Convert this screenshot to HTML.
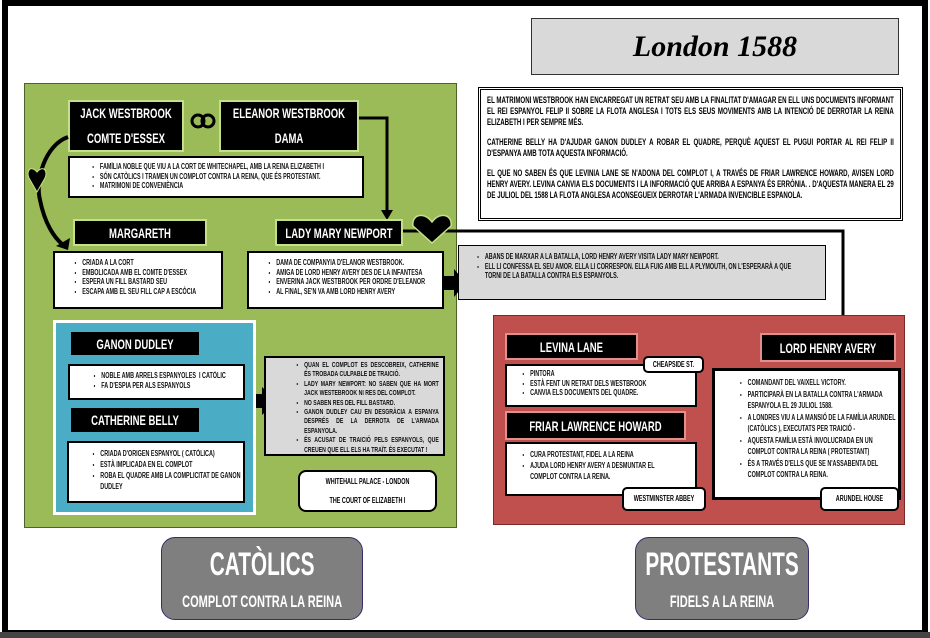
<!DOCTYPE html>
<html><head><meta charset="utf-8"><style>
*{box-sizing:border-box;margin:0;padding:0}
body{width:930px;height:638px;background:#fff;position:relative;overflow:hidden;font-family:"Liberation Sans",sans-serif;font-weight:bold}
.a{position:absolute}
.cz{width:147%;transform:scaleX(0.68);transform-origin:left top}
.blk{position:absolute;background:#000;color:#fff;text-align:center;font-size:14px;border:2px solid #c5e08a;display:flex;flex-direction:column;justify-content:center;overflow:hidden}
.blk .cz{transform-origin:left center}
.rb{border-color:#e08f8c}
.wb{position:absolute;background:#fff;border:2px solid #000;font-size:8px;color:#111;line-height:9.5px;overflow:hidden}
.wb ul{padding-left:30px;margin-top:4px}
.wb li{list-style:disc}
.gb{position:absolute;background:#d9d9d9;border:1px solid #000;font-size:8px;line-height:9.5px;color:#111;overflow:hidden}
.gb ul{padding-left:36px;margin-top:6px}
.lbl{position:absolute;background:#fff;border:2px solid #000;border-radius:5px;font-size:8px;text-align:center;overflow:hidden}
</style></head><body>
<div class="a" style="left:2px;top:0;width:926px;height:636px;border:6px solid #000"></div>
<div class="a" style="left:0;top:632px;width:930px;height:6px;background:#444"></div>

<div class="a" style="left:531px;top:18px;width:368px;height:57px;background:#d9d9d9;border:1px solid #333;text-align:center;font-family:'Liberation Serif',serif;font-style:italic;font-size:30px;line-height:55px;font-weight:bold">London 1588</div>

<div class="a" style="left:478px;top:87px;width:425px;height:134px;border:3px double #000;background:#fff;font-size:9px;line-height:11px;padding:5px 6px;overflow:hidden">
<div style="width:147%;transform:scaleX(0.68);transform-origin:left top;text-align:justify">
<p>EL MATRIMONI WESTBROOK HAN ENCARREGAT UN RETRAT SEU AMB LA FINALITAT D'AMAGAR EN ELL UNS DOCUMENTS INFORMANT EL REI ESPANYOL FELIP II SOBRE LA FLOTA ANGLESA I TOTS ELS SEUS MOVIMENTS AMB LA INTENCIÓ DE DERROTAR LA REINA ELIZABETH I PER SEMPRE MÉS.</p>
<p style="margin-top:9px">CATHERINE BELLY HA D'AJUDAR GANON DUDLEY A ROBAR EL QUADRE, PERQUÈ AQUEST EL PUGUI PORTAR AL REI FELIP II D'ESPANYA AMB TOTA AQUESTA INFORMACIÓ.</p>
<p style="margin-top:9px">EL QUE NO SABEN ÉS QUE LEVINIA LANE SE N'ADONA DEL COMPLOT I, A TRAVÉS DE FRIAR LAWRENCE HOWARD, AVISEN LORD HENRY AVERY. LEVINA CANVIA ELS DOCUMENTS I LA INFORMACIÓ QUE ARRIBA A ESPANYA ÉS ERRÒNIA. . D'AQUESTA MANERA EL 29 DE JULIOL DEL 1588 LA FLOTA ANGLESA ACONSEGUEIX DERROTAR L'ARMADA INVENCIBLE ESPANOLA.</p>
</div></div>

<div class="a" style="left:24px;top:83px;width:433px;height:445px;background:#9bbb59;border:1px solid #4f6228"></div>
<div class="blk" style="left:68px;top:100px;width:116px;height:52px"><div class="cz"><div style="line-height:25px">JACK WESTBROOK</div><div style="line-height:25px">COMTE D'ESSEX</div></div></div>
<div class="blk" style="left:219px;top:100px;width:140px;height:52px"><div class="cz"><div style="line-height:25px">ELEANOR WESTBROOK</div><div style="line-height:25px">DAMA</div></div></div>
<svg class="a" style="left:0;top:0" width="930" height="638">
<g fill="none" stroke="#000" stroke-width="3"><circle cx="198" cy="121" r="6"/><circle cx="208" cy="121" r="6"/></g>
<path d="M68 137 C45 145 35 180 40 200 C45 225 55 238 62 244" fill="none" stroke="#000" stroke-width="4"/>
<polygon points="56,246 70,238 68,250" fill="#000"/>
<path d="M37 172 C30 164 26 172 29 178 L37 192 L45 178 C48 172 44 164 37 172Z" fill="#000" stroke="#c5e08a" stroke-width="1"/>
<path d="M359 118 L387 118 L387 212" fill="none" stroke="#000" stroke-width="3"/>
<polygon points="381,210 393,210 387,220" fill="#000"/>
<path d="M403 231 L843 231 L843 335" fill="none" stroke="#000" stroke-width="3"/>
<path d="M432 222 C423 210 411 216 413 226 L432 243 L451 226 C453 216 441 210 432 222Z" fill="#000" stroke="#c5e08a" stroke-width="1.5"/>
<polygon points="444,276 454,276 454,269 466,283 454,297 454,290 444,290" fill="#000"/>
<polygon points="250,394 262,394 262,387 277,401 262,415 262,408 250,408" fill="#000"/>
</svg>
<div class="wb" style="left:68px;top:156px;width:296px;height:42px"><div class="cz"><ul style="padding-left:44px"><li>FAMÍLIA NOBLE QUE VIU A LA CORT DE WHITECHAPEL, AMB LA REINA ELIZABETH I</li><li>SÓN CATÒLICS I TRAMEN UN COMPLOT CONTRA LA REINA, QUE ÉS PROTESTANT.</li><li>MATRIMONI DE CONVENIÈNCIA</li></ul></div></div>
<div class="blk" style="left:73px;top:219px;width:134px;height:27px"><div class="cz">MARGARETH</div></div>
<div class="blk" style="left:275px;top:219px;width:128px;height:27px"><div class="cz">LADY MARY NEWPORT</div></div>
<div class="wb" style="left:53px;top:251px;width:170px;height:58px"><div class="cz"><ul style="padding-left:40px;margin-top:5px"><li>CRIADA A LA CORT</li><li>EMBOLICADA AMB EL COMTE D'ESSEX</li><li>ESPERA UN FILL BASTARD SEU</li><li>ESCAPA AMB EL SEU FILL CAP A ESCÒCIA</li></ul></div></div>
<div class="wb" style="left:247px;top:251px;width:197px;height:58px"><div class="cz"><ul style="padding-left:40px;margin-top:5px"><li>DAMA DE COMPANYIA D'ELANOR WESTBROOK.</li><li>AMIGA DE LORD HENRY AVERY DES DE LA INFANTESA</li><li>ENVERINA JACK WESTBROOK PER ORDRE D'ELEANOR</li><li>AL FINAL, SE'N VA AMB LORD HENRY AVERY</li></ul></div></div>
<div class="gb" style="left:458px;top:245px;width:368px;height:55px"><div class="cz"><ul style="padding-left:38px"><li>ABANS DE MARXAR A LA BATALLA, LORD HENRY AVERY VISITA LADY MARY NEWPORT.</li><li>ELL LI CONFESSA EL SEU AMOR. ELLA LI CORRESPON. ELLA FUIG AMB ELL A PLYMOUTH, ON L'ESPERARÀ A QUE<br>TORNI DE LA BATALLA CONTRA ELS ESPANYOLS.</li></ul></div></div>

<div class="a" style="left:53px;top:320px;width:203px;height:195px;background:#4bacc6;border:3px solid #fff"></div>
<div class="blk" style="left:69px;top:330px;width:132px;height:27px;border-color:#4bacc6"><div class="cz">GANON DUDLEY</div></div>
<div class="wb" style="left:68px;top:364px;width:177px;height:36px"><div class="cz"><ul style="padding-left:46px;margin-top:5px"><li>NOBLE AMB ARRELS ESPANYOLES &nbsp;I CATÒLIC</li><li>FA D'ESPIA PER ALS ESPANYOLS</li></ul></div></div>
<div class="blk" style="left:69px;top:406px;width:132px;height:28px;border-color:#4bacc6"><div class="cz">CATHERINE BELLY</div></div>
<div class="wb" style="left:67px;top:441px;width:178px;height:62px"><div class="cz"><ul style="padding-left:46px;margin-top:5px;line-height:11px"><li>CRIADA D'ORIGEN ESPANYOL ( CATÒLICA)</li><li>ESTÀ IMPLICADA EN EL COMPLOT</li><li>ROBA EL QUADRE AMB LA COMPLICITAT DE GANON DUDLEY</li></ul></div></div>
<div class="gb" style="left:264px;top:356px;width:181px;height:100px;border:2px solid #000;line-height:9.4px;font-size:7.6px"><div class="cz" style="text-align:justify;padding-right:6px"><ul style="padding-left:56px;margin-top:2px"><li>QUAN EL COMPLOT ES DESCOBREIX, CATHERINE ÉS TROBADA CULPABLE DE TRAICIÓ.</li><li>LADY MARY NEWPORT: NO SABEN QUE HA MORT JACK WESTEBROOK NI RES DEL COMPLOT.</li><li>NO SABEN RES DEL FILL BASTARD.</li><li>GANON DUDLEY CAU EN DESGRÀCIA A ESPANYA DESPRÉS DE LA DERROTA DE L'ARMADA ESPANYOLA.</li><li>ÉS ACUSAT DE TRAICIÓ PELS ESPANYOLS, QUE CREUEN QUE ELL ELS HA TRAÏT. ÉS EXECUTAT !</li></ul></div></div>
<div class="lbl" style="left:298px;top:470px;width:139px;height:42px;border-radius:8px;line-height:19px"><div class="cz">WHITEHALL PALACE - LONDON<br>THE COURT OF ELIZABETH I</div></div>

<div class="a" style="left:493px;top:315px;width:412px;height:210px;background:#c0504d;border:1px solid #7b2a28"></div>
<div class="blk rb" style="left:505px;top:333px;width:133px;height:27px"><div class="cz">LEVINA LANE</div></div>
<div class="wb" style="left:505px;top:364px;width:192px;height:43px"><div class="cz"><ul style="padding-left:34px;margin-top:3px"><li>PINTORA</li><li>ESTÀ FENT UN RETRAT DELS WESTBROOK</li><li>CANVIA ELS DOCUMENTS DEL QUADRE.</li></ul></div></div>
<div class="lbl" style="left:643px;top:356px;width:61px;height:17px;line-height:13px"><div class="cz">CHEAPSIDE ST.</div></div>
<div class="blk rb" style="left:505px;top:411px;width:181px;height:29px"><div class="cz">FRIAR LAWRENCE HOWARD</div></div>
<div class="wb" style="left:505px;top:442px;width:192px;height:54px"><div class="cz"><ul style="padding-left:34px;margin-top:5px;line-height:11px"><li>CURA PROTESTANT, FIDEL A LA REINA</li><li>AJUDA LORD HENRY AVERY A DESMUNTAR EL<br>COMPLOT CONTRA LA REINA.</li></ul></div></div>
<div class="lbl" style="left:622px;top:487px;width:84px;height:24px;line-height:20px"><div class="cz">WESTMINSTER ABBEY</div></div>
<div class="blk rb" style="left:760px;top:333px;width:136px;height:29px"><div class="cz">LORD HENRY AVERY</div></div>
<div class="wb" style="left:712px;top:368px;width:189px;height:132px;border-width:3px"><div class="cz"><ul style="padding-left:48px;margin-top:6px;line-height:11.5px"><li>COMANDANT DEL VAIXELL VICTORY.</li><li>PARTICIPARÀ EN LA BATALLA CONTRA L'ARMADA ESPANYOLA EL 29 JULIOL 1588.</li><li>A LONDRES VIU A LA MANSIÓ DE LA FAMÍLIA ARUNDEL (CATÒLICS ), EXECUTATS PER TRAICIÓ -</li><li>AQUESTA FAMÍLIA ESTÀ INVOLUCRADA EN UN COMPLOT CONTRA LA REINA ( PROTESTANT)</li><li>ÉS A TRAVÉS D'ELLS QUE SE N'ASSABENTA DEL COMPLOT CONTRA LA REINA.</li></ul></div></div>
<div class="lbl" style="left:820px;top:487px;width:79px;height:24px;line-height:20px"><div class="cz">ARUNDEL HOUSE</div></div>

<div class="a" style="left:161px;top:537px;width:202px;height:83px;background:#7f7f7f;border:1px solid #3b2a6b;border-radius:14px;color:#fff;text-align:center;overflow:hidden">
<div style="width:154%;transform:scaleX(0.65);transform-origin:left top"><div style="font-size:32px;margin-top:8px">CATÒLICS</div><div style="font-size:17px;margin-top:9px">COMPLOT CONTRA LA REINA</div></div></div>
<div class="a" style="left:635px;top:537px;width:174px;height:83px;background:#7f7f7f;border:1px solid #3b2a6b;border-radius:14px;color:#fff;text-align:center;overflow:hidden">
<div style="width:154%;transform:scaleX(0.65);transform-origin:left top"><div style="font-size:32px;margin-top:8px">PROTESTANTS</div><div style="font-size:17px;margin-top:9px">FIDELS A LA REINA</div></div></div>
</body></html>
